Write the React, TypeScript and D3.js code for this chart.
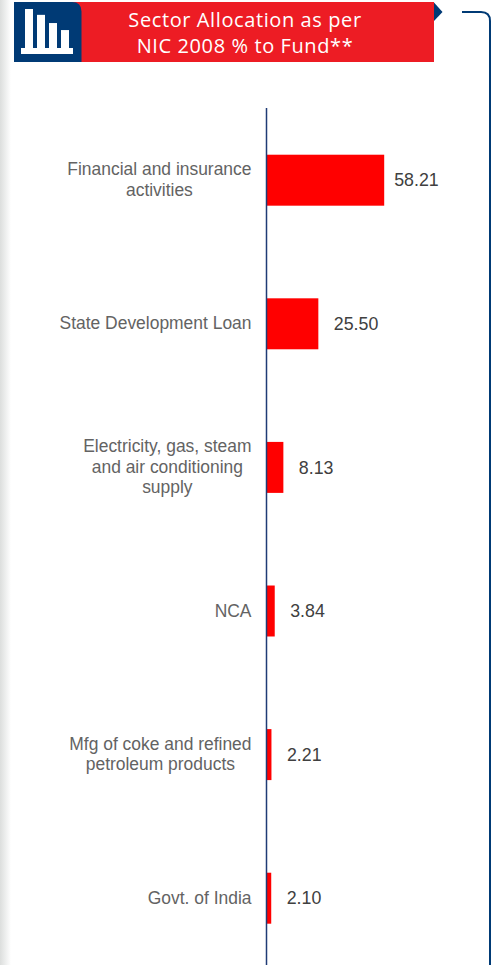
import React from "react";
import * as d3 from "d3";

const categories = [
  ["Financial and insurance", "activities"],
  ["State Development Loan"],
  ["Electricity, gas, steam", "and air conditioning", "supply"],
  ["NCA"],
  ["Mfg of coke and refined", "petroleum products"],
  ["Govt. of India"],
];
const values = [58.21, 25.5, 8.13, 3.84, 2.21, 2.1];
const titleLines = ["Sector Allocation as per", "NIC 2008 % to Fund**"];
const iconBars = [0, 1, 2, 3];
const iconHeights = [100, 85, 64, 46];

const NAVY = "#003a75";
const RED = "#ed1c24";
const SANS = "'Liberation Sans', Arial, sans-serif";
const LABEL_SIZE = 17.45;

function textWidth(s: string) {
  const ctx = document.createElement("canvas").getContext("2d")!;
  ctx.font = `${LABEL_SIZE}px "Liberation Sans"`;
  return ctx.measureText(s).width;
}

export default function App() {
  const x = d3.scaleLinear().domain([0, 58.21]).range([267, 384.2]);
  const y = d3
    .scaleBand<number>()
    .domain(d3.range(categories.length))
    .range([108.4, 970])
    .paddingInner(0.645)
    .paddingOuter(0.3225);
  const iconX = d3.scaleBand<number>().domain(iconBars).range([25, 69]).paddingInner(1 / 3);
  const iconY = d3.scaleLinear().domain([0, 100]).range([48, 9]);

  return (
    <svg
      width={497}
      height={965}
      viewBox="0 0 497 965"
      style={{ position: "fixed", left: 0, top: 0, display: "block", background: "#fff" }}
    >
      <defs>
        <linearGradient id="edge" x1="0" x2="1" y1="0" y2="0">
          <stop offset="0" stopColor="#dcdedd" />
          <stop offset="1" stopColor="#ffffff" />
        </linearGradient>
      </defs>
      <rect x={0} y={0} width={11} height={965} fill="url(#edge)" />

      {/* Header */}
      <rect x={14} y={2} width={420} height={60} fill={RED} />
      <path d="M14 2H72Q81.500 2 81.500 11.500V62H14Z" fill={NAVY} />
      {iconBars.map((b) => (
        <rect
          key={b}
          x={iconX(b)}
          y={iconY(iconHeights[b])}
          width={iconX.bandwidth()}
          height={48 - iconY(iconHeights[b])}
          fill="#fff"
        />
      ))}
      <rect x={21} y={48} width={52} height={6} fill="#fff" />
      {titleLines.map((t, i) => (
        <text
          key={t}
          x={245}
          y={27 + i * 25.5}
          textAnchor="middle"
          fontFamily="'Open Sans', sans-serif"
          fontSize={20}
          letterSpacing={0.6}
          fill="#fff"
        >
          {t}
        </text>
      ))}
      <path d="M434 2.500L442.500 12L434 21Z" fill={NAVY} />

      {/* Bracket */}
      <path d="M462 12H481Q490 12 490 21V965" fill="none" stroke={NAVY} strokeWidth={2} />

      {/* Bars */}
      {values.map((v, i) => {
        const cy = y(i)! + y.bandwidth() / 2;
        const lines = categories[i];
        const blockWidth = d3.max(lines, textWidth)!;
        const gap = i === 0 ? 10 : 15.5;
        return (
          <g key={i}>
            <rect x={x(0)} y={y(i)} width={x(v) - x(0)} height={y.bandwidth()} fill="#ff0000" />
            <text
              x={x(v) + gap}
              y={cy + 6.2}
              fontFamily={SANS}
              fontSize={17.8}
              fill="#404040"
            >
              {v.toFixed(2)}
            </text>
            {lines.map((l, j) => (
              <text
                key={j}
                x={251.5 - blockWidth / 2}
                y={cy + 5.5 + (j - (lines.length - 1) / 2) * 20.5}
                textAnchor="middle"
                fontFamily={SANS}
                fontSize={LABEL_SIZE}
                fill="#636363"
              >
                {l}
              </text>
            ))}
          </g>
        );
      })}

      {/* Axis */}
      <line x1={266.5} x2={266.5} y1={108} y2={965} stroke="#1f3b75" strokeWidth={1.5} />
    </svg>
  );
}
